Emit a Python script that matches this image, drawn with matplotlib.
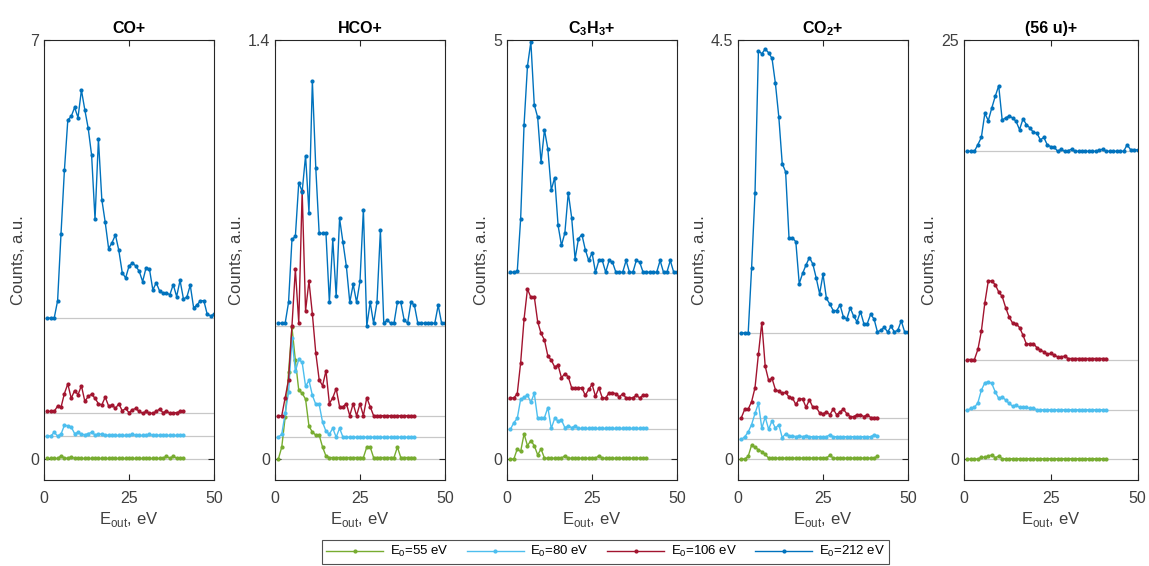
import numpy as np
import matplotlib
matplotlib.use('Agg')
import matplotlib.pyplot as plt

plt.rcParams['font.family'] = ['Liberation Sans', 'DejaVu Sans']
plt.rcParams['mathtext.fontset'] = 'custom'
plt.rcParams['mathtext.rm'] = 'Liberation Sans'

# energy grid (eV)
e_short = np.arange(1, 42)   # E0 = 55, 80, 106 eV
e_long = np.arange(1, 51)    # E0 = 212 eV

titles = ['CO+', 'HCO+', 'C$_\\mathregular{3}$H$_\\mathregular{3}$+',
          'CO$_\\mathregular{2}$+', '(56 u)+']
ymax = [7, 1.4, 5, 4.5, 25]
ytick_labels = ['7', '1.4', '5', '4.5', '25']
labels = ['E$_\\mathregular{0}$=55 eV', 'E$_\\mathregular{0}$=80 eV',
          'E$_\\mathregular{0}$=106 eV', 'E$_\\mathregular{0}$=212 eV']

# vertical offsets of each spectrum (55, 80, 106, 212 eV)
offsets = [
    [0, 0.385, 0.765, 2.356],
    [0, 0.073, 0.145, 0.444],
    [0, 0.355, 0.72, 2.22],
    [0, 0.21, 0.436, 1.355],
    [0, 2.92, 5.94, 18.37],
]

# ---- CO+
co_55 = [0.01, 0.01, 0.01, 0.01, 0.05, 0.02, 0.01, 0.04, 0.01, 0.01,
         0.01, 0.01, 0.01, 0.01, 0.01, 0.01, 0.01, 0.01, 0.01, 0.01,
         0.01, 0.01, 0.01, 0.01, 0.01, 0.01, 0.01, 0.01, 0.01, 0.01,
         0.01, 0.01, 0.01, 0.01, 0.01, 0.05, 0.01, 0.05, 0.01, 0.01, 0.01]
co_80 = [0, 0, 0.06, 0, 0.03, 0.18, 0.17, 0.15, 0.04, 0.06,
         0.03, 0.02, 0.04, 0.06, 0.02, 0.03, 0.03, 0.02, 0.01, 0.01,
         0.01, 0.01, 0.01, 0.01, 0.01, 0.03, 0.01, 0.01, 0.01, 0.01,
         0.03, 0.01, 0.02, 0.01, 0.01, 0.01, 0.01, 0.01, 0.01, 0.01, 0.01]
co_106 = [0.03, 0.03, 0.03, 0.12, 0.10, 0.33, 0.49, 0.25, 0.38, 0.31,
          0.46, 0.20, 0.28, 0.32, 0.25, 0.16, 0.14, 0.27, 0.12, 0.14,
          0.08, 0.16, 0.04, 0.08, 0.01, 0.06, 0.08, 0.03, 0.0, 0.03,
          0.0, 0.0, 0.03, 0.07, 0.01, 0.04, 0.0, 0.01, 0.01, 0.03, 0.04]
co_212 = [0, 0, 0, 0.29, 1.41, 2.47, 3.31, 3.37, 3.52, 3.35,
          3.81, 3.48, 3.17, 2.72, 1.65, 2.99, 1.98, 1.60, 1.16, 1.26,
          1.39, 1.13, 0.76, 0.67, 0.87, 0.92, 0.87, 0.78, 0.61, 0.84,
          0.82, 0.47, 0.59, 0.45, 0.42, 0.42, 0.39, 0.56, 0.36, 0.63,
          0.32, 0.35, 0.55, 0.17, 0.22, 0.29, 0.29, 0.06, 0.04, 0.06]

# ---- HCO+
hco_55 = [0, 0.04, 0.14, 0.29, 0.44, 0.33, 0.23, 0.22, 0.20, 0.11,
          0.09, 0.08, 0.08, 0.04, 0.01, 0.005, 0.005, 0.005, 0.005, 0.005,
          0.005, 0.005, 0.005, 0.005, 0.005, 0.005, 0.04, 0.04, 0.005, 0.005,
          0.005, 0.005, 0.005, 0.005, 0.005, 0.04, 0.005, 0.005, 0.005, 0.005, 0.005]
hco_80 = [0, 0.01, 0.08, 0.15, 0.33, 0.22, 0.26, 0.25, 0.17, 0.19,
          0.14, 0.11, 0.11, 0.05, 0.02, 0.01, 0.03, 0, 0.03, 0,
          0, 0, 0, 0, 0, 0, 0, 0, 0, 0,
          0, 0, 0, 0, 0, 0, 0, 0, 0, 0, 0]
hco_106 = [0, 0, 0.06, 0.12, 0.30, 0.49, 0.31, 0.75, 0.35, 0.45,
           0.34, 0.21, 0.12, 0.10, 0.15, 0.04, 0.06, 0.09, 0.03, 0.03,
           0.04, 0, 0.04, 0, 0.04, 0, 0.06, 0.03, 0, 0,
           0, 0, 0, 0, 0, 0, 0, 0, 0, 0, 0]
hco_212 = [0.01, 0.01, 0.01, 0.08, 0.29, 0.30, 0.48, 0.45, 0.57, 0.38,
           0.82, 0.53, 0.31, 0.31, 0.31, 0.08, 0.29, 0.10, 0.36, 0.28,
           0.20, 0.08, 0.14, 0.08, 0.15, 0.39, 0.0, 0.08, 0.01, 0.08,
           0.32, 0.01, 0.02, 0.01, 0.01, 0.08, 0.08, 0.02, 0.01, 0.08,
           0.07, 0.01, 0.01, 0.01, 0.01, 0.01, 0.01, 0.07, 0.01, 0.01]

# ---- C3H3+
c3h3_55 = [0, 0, 0.12, 0.09, 0.30, 0.16, 0.22, 0.16, 0.05, 0.12,
           0.01, 0.01, 0.01, 0.01, 0.01, 0.01, 0.04, 0.01, 0.01, 0.01,
           0.01, 0.01, 0.01, 0.01, 0.01, 0.01, 0.04, 0.01, 0.01, 0.01,
           0.01, 0.01, 0.01, 0.01, 0.01, 0.01, 0.01, 0.01, 0.01, 0.01, 0.01]
c3h3_80 = [0, 0.08, 0.13, 0.36, 0.38, 0.41, 0.32, 0.43, 0.13, 0.14,
           0.14, 0.26, 0.01, 0.13, 0.10, 0.11, 0.02, 0.04, 0.02, 0.04,
           0.01, 0.01, 0.01, 0.01, 0.01, 0.01, 0.01, 0.01, 0.01, 0.01,
           0.01, 0.01, 0.01, 0.01, 0.01, 0.01, 0.01, 0.01, 0.01, 0.01, 0.01]
c3h3_106 = [0.01, 0.01, 0.06, 0.43, 0.95, 1.31, 1.21, 1.22, 0.92, 0.78,
            0.70, 0.51, 0.46, 0.38, 0.40, 0.25, 0.30, 0.26, 0.13, 0.13,
            0.13, 0.13, 0.04, 0.11, 0.17, 0.03, 0.13, 0.01, 0.01, 0.07,
            0.07, 0.06, 0.02, 0.06, 0.01, 0.01, 0.01, 0.04, 0.01, 0.04, 0.04]
c3h3_212 = [0.01, 0.01, 0.02, 0.65, 1.77, 2.47, 2.76, 2.01, 1.86, 1.32,
            1.71, 1.48, 0.99, 1.14, 0.57, 0.33, 0.48, 0.96, 0.66, 0.17,
            0.41, 0.46, 0.28, 0.15, 0.24, 0.01, 0.15, 0.15, 0.01, 0.15,
            0.13, 0.01, 0.01, 0.01, 0.15, 0.01, 0.01, 0.15, 0.13, 0.01,
            0.01, 0.01, 0.01, 0.01, 0.15, 0.01, 0.01, 0.15, 0.01, 0.01]

# ---- CO2+
co2_55 = [0, 0, 0.03, 0.15, 0.125, 0.10, 0.08, 0.05, 0.01, 0.01,
          0.01, 0.01, 0.01, 0.01, 0.01, 0.01, 0.01, 0.01, 0.01, 0.01,
          0.01, 0.01, 0.01, 0.01, 0.01, 0.01, 0.04, 0.01, 0.01, 0.01,
          0.01, 0.01, 0.01, 0.01, 0.01, 0.01, 0.01, 0.01, 0.01, 0.01, 0.03]
co2_80 = [0, 0.03, 0.08, 0.16, 0.28, 0.39, 0.12, 0.24, 0.11, 0.20,
          0.12, 0.16, 0.02, 0.06, 0.04, 0.04, 0.03, 0.04, 0.03, 0.04,
          0.03, 0.03, 0.03, 0.03, 0.03, 0.03, 0.05, 0.03, 0.03, 0.03,
          0.03, 0.03, 0.03, 0.03, 0.03, 0.03, 0.03, 0.03, 0.03, 0.05, 0.04]
co2_106 = [0.01, 0.10, 0.10, 0.18, 0.33, 0.69, 1.03, 0.56, 0.41, 0.43,
           0.31, 0.29, 0.27, 0.28, 0.23, 0.22, 0.15, 0.21, 0.21, 0.12,
           0.20, 0.12, 0.12, 0.06, 0.05, 0.07, 0.04, 0.10, 0.04, 0.07,
           0.10, 0.05, 0.02, 0.02, 0.04, 0.04, 0.02, 0.04, 0.01, 0.01, 0.01]
co2_212 = [0, 0, 0, 0.70, 1.50, 3.03, 3.00, 3.05, 3.01, 2.95,
           2.68, 2.32, 1.82, 1.73, 1.02, 1.02, 0.98, 0.53, 0.64, 0.73,
           0.81, 0.74, 0.59, 0.42, 0.63, 0.37, 0.31, 0.24, 0.24, 0.30,
           0.17, 0.15, 0.27, 0.18, 0.12, 0.23, 0.10, 0.10, 0.20, 0.15,
           0.01, 0.03, 0.06, 0.01, 0.07, 0.01, 0.03, 0.13, 0.01, 0.01]

# ---- (56 u)+
m56_55 = [0, 0, 0, 0, 0.10, 0.10, 0.18, 0.24, 0.08, 0.18,
          0.02, 0.02, 0.02, 0.02, 0.02, 0.02, 0.02, 0.02, 0.02, 0.02,
          0.02, 0.02, 0.02, 0.02, 0.02, 0.02, 0.02, 0.02, 0.02, 0.02,
          0.02, 0.02, 0.02, 0.02, 0.02, 0.02, 0.02, 0.02, 0.02, 0.02, 0.02]
m56_80 = [0, 0.10, 0.16, 0.44, 1.19, 1.63, 1.69, 1.59, 1.09, 0.70,
          0.79, 0.60, 0.40, 0.24, 0.30, 0.16, 0.20, 0.16, 0.10, 0.12,
          0.02, 0.02, 0.02, 0.02, 0.02, 0.02, 0.02, 0.02, 0.02, 0.02,
          0.02, 0.02, 0.02, 0.02, 0.02, 0.02, 0.02, 0.02, 0.02, 0.02, 0.02]
m56_106 = [0, 0, 0, 0.60, 1.69, 3.38, 4.69, 4.69, 4.47, 4.03,
           3.77, 3.10, 2.54, 2.18, 2.14, 1.91, 1.45, 0.91, 0.95, 0.95,
           0.71, 0.56, 0.46, 0.32, 0.36, 0.26, 0.16, 0.16, 0.20, 0.06,
           0.06, 0.06, 0.06, 0.06, 0.06, 0.06, 0.06, 0.06, 0.06, 0.06, 0.06]
m56_212 = [0, 0, 0, 0.40, 0.83, 2.26, 1.83, 2.58, 3.28, 3.91,
           1.87, 1.99, 2.11, 1.99, 1.79, 1.29, 1.93, 1.59, 1.39, 1.13,
           1.09, 0.68, 0.83, 0.38, 0.28, 0.24, 0.0, 0.12, 0.0, 0.04,
           0.12, 0.0, 0.0, 0.0, 0.0, 0.0, 0.0, 0.0, 0.08, 0.12,
           0.0, 0.0, 0.0, 0.0, 0.0, 0.0, 0.38, 0.10, 0.10, 0.08]

spectra = [
    [co_55, co_80, co_106, co_212],
    [hco_55, hco_80, hco_106, hco_212],
    [c3h3_55, c3h3_80, c3h3_106, c3h3_212],
    [co2_55, co2_80, co2_106, co2_212],
    [m56_55, m56_80, m56_106, m56_212],
]
colors = ['#77AC30', '#4DBEEE', '#A2142F', '#0072BD']

fig = plt.figure(figsize=(11.49, 5.66), dpi=100)
lefts = [0.0383, 0.2393, 0.4413, 0.6423, 0.839]
widths = [0.148, 0.148, 0.148, 0.148, 0.151]

handles = []
for i in range(5):
    ax = fig.add_axes([lefts[i], 0.152, widths[i], 0.777])
    for j in range(4):
        ax.axhline(offsets[i][j], color='#c8c8c8', lw=0.9, zorder=1)
        x = e_long if j == 3 else e_short
        y = np.array(spectra[i][j]) + offsets[i][j]
        h, = ax.plot(x, y, color=colors[j], lw=1.0, marker='.', ms=4,
                     zorder=2, label=labels[j])
        if i == 0:
            handles.append(h)
    ax.set_xlim(0, 50)
    ax.set_ylim(-0.05 * ymax[i], ymax[i])
    ax.set_xticks([0, 25, 50])
    ax.set_yticks([0, ymax[i]])
    ax.set_yticklabels(['0', ytick_labels[i]])
    ax.tick_params(direction='in', top=True, right=True, labelsize=11.5,
                   colors='#262626', labelcolor='#404040', length=4)
    ax.tick_params(axis='x', pad=8)
    for s in ax.spines.values():
        s.set_color('#262626')
        s.set_linewidth(0.8)
    ax.set_title(titles[i], fontsize=11.5, fontweight='bold', pad=5)
    ax.set_xlabel('E$_\\mathregular{out}$, eV', fontsize=12, color='#404040',
                  labelpad=3)
    ax.set_ylabel('Counts, a.u.', fontsize=12, color='#404040', labelpad=3)

leg = fig.legend(handles=handles, loc='center', bbox_to_anchor=(0.527, 0.025),
                 ncol=4, fontsize=9.5, handlelength=4.3, columnspacing=1.4,
                 handletextpad=0.5, frameon=True, fancybox=False,
                 borderpad=0.35, borderaxespad=0)
leg.get_frame().set_edgecolor('#262626')
leg.get_frame().set_linewidth(0.8)

plt.savefig('out.png', dpi=100)
